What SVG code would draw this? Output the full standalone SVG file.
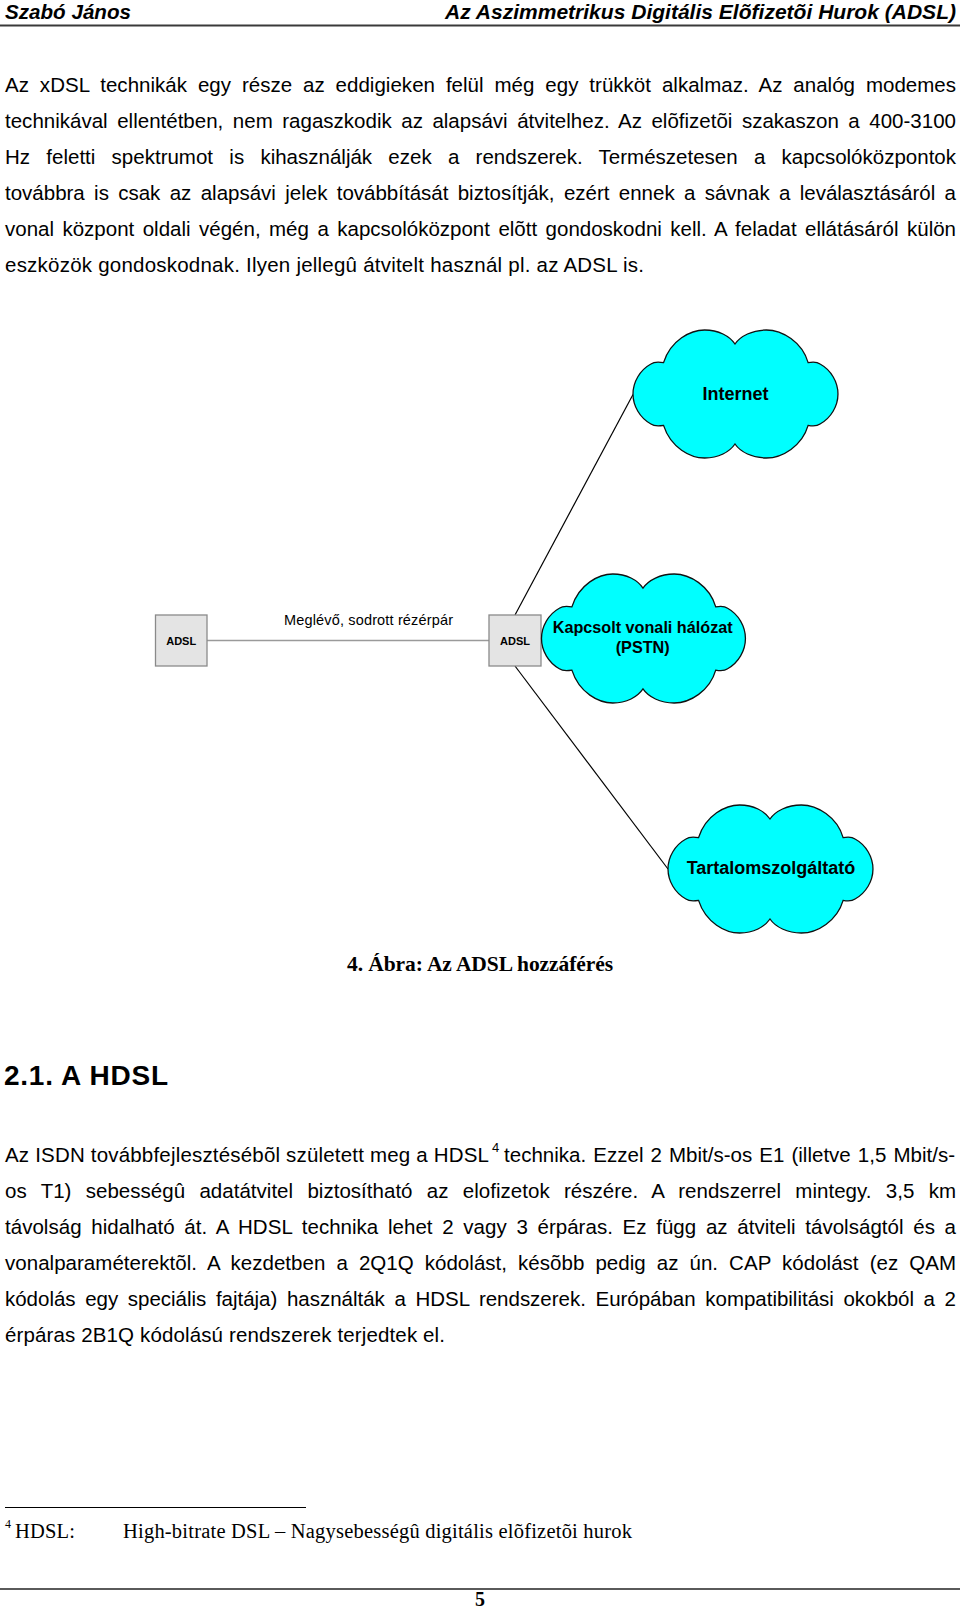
<svg xmlns="http://www.w3.org/2000/svg" xmlns:xlink="http://www.w3.org/1999/xlink" width="960" height="1609" viewBox="0 0 960 1609">
<style>
.hdr{font-family:"Liberation Sans Narrow","Liberation Sans",Arial,sans-serif;font-weight:bold;font-style:italic;font-size:21px;fill:#000}
.body{font-family:"Liberation Sans",Arial,sans-serif;font-size:20.5px;fill:#000}
.h2{font-family:"Liberation Sans",Arial,sans-serif;font-size:28px;font-weight:bold;fill:#000}
.serif{font-family:"Liberation Serif","Times New Roman",serif;font-size:20.5px;fill:#000}
.cap{font-family:"Liberation Serif","Times New Roman",serif;font-size:21.5px;font-weight:bold;fill:#000}
.box{fill:#e4e4e4;stroke:#8a8a8a;stroke-width:1.3}
.boxlbl{font-family:"Liberation Sans",Arial,sans-serif;font-size:11px;font-weight:bold;fill:#000;text-anchor:middle}
.cloud{fill:#00ffff;stroke:#111;stroke-width:1.3}
.cloudlbl{font-family:"Liberation Sans",Arial,sans-serif;font-size:18px;font-weight:bold;fill:#000;text-anchor:middle}
.lbl{font-family:"Liberation Sans",Arial,sans-serif;font-size:14.5px;fill:#000}
.wire{stroke:#000;stroke-width:1.2;fill:none}
.copper{stroke:#9a9a9a;stroke-width:1.3;fill:none}
</style>
<defs>
<path id="cloud" d="M30.7,32.6 C38,10 58,0 72,0 C86,0 97,6 102.5,14 C108,6 120,0 134,0 C150,0 170,12 176,32.6 C182,31.5 186,32.5 188,34 C199,40 206,52 206,64 C206,76 199,88 188,94 C186,95.5 182,96.5 176,95.4 C170,116 150,128 134,128 C120,128 108,122 102.5,114 C97,122 86,128 72,128 C58,128 38,118 30.7,95.4 C24,96.5 20,95.5 18,94 C7,88 0,76 0,64 C0,52 7,40 18,34 C20,32.5 24,31.5 30.7,32.6 Z"/>
</defs>
<rect x="0" y="0" width="960" height="1609" fill="#fff"/>

<g id="header">
<text class="hdr" x="5" y="18.5" textLength="126" lengthAdjust="spacingAndGlyphs">Szabó János</text>
<text class="hdr" x="445" y="18.5" textLength="511" lengthAdjust="spacingAndGlyphs">Az Aszimmetrikus Digitális Elõfizetõi Hurok (ADSL)</text>
<line x1="0" y1="25.5" x2="960" y2="25.5" stroke="#3a3a3a" stroke-width="2"/>
</g>

<g id="paragraph1" class="body">
<text x="5" y="91.5" style="word-spacing:5.19px" textLength="951" lengthAdjust="spacing">Az xDSL technikák egy része az eddigieken felül még egy trükköt alkalmaz. Az analóg modemes</text>
<text x="5" y="127.5" style="word-spacing:3.79px" textLength="951" lengthAdjust="spacing">technikával ellentétben, nem ragaszkodik az alapsávi átvitelhez. Az elõfizetõi szakaszon a 400-3100</text>
<text x="5" y="163.5" style="word-spacing:10.54px" textLength="951" lengthAdjust="spacing">Hz feletti spektrumot is kihasználják ezek a rendszerek. Természetesen a kapcsolóközpontok</text>
<text x="5" y="199.5" style="word-spacing:3.64px" textLength="951" lengthAdjust="spacing">továbbra is csak az alapsávi jelek továbbítását biztosítják, ezért ennek a sávnak a leválasztásáról a</text>
<text x="5" y="235.5" style="word-spacing:2.76px" textLength="951" lengthAdjust="spacing">vonal központ oldali végén, még a kapcsolóközpont elõtt gondoskodni kell. A feladat ellátásáról külön</text>
<text x="5" y="271.5" textLength="639" lengthAdjust="spacing">eszközök gondoskodnak. Ilyen jellegû átvitelt használ pl. az ADSL is.</text>
</g>

<g id="connectors">
<line class="copper" x1="207" y1="640.5" x2="489" y2="640.5"/>
<line class="wire" x1="515" y1="615" x2="633" y2="394.5"/>
<line class="wire" x1="515" y1="666" x2="668" y2="869"/>
<text class="lbl" x="284" y="625" textLength="169" lengthAdjust="spacing">Meglévő, sodrott rézérpár</text>
</g>

<g id="adsl-left">
<rect class="box" x="155.5" y="615" width="51.5" height="51"/>
<text class="boxlbl" x="181.2" y="645">ADSL</text>
</g>

<g id="adsl-right">
<rect class="box" x="489" y="615" width="52" height="51"/>
<text class="boxlbl" x="515" y="645">ADSL</text>
</g>

<g id="internet">
<use xlink:href="#cloud" class="cloud" transform="translate(633,330) scale(0.995,1)"/>
<text class="cloudlbl" x="735.5" y="400">Internet</text>
</g>

<g id="pstn">
<use xlink:href="#cloud" class="cloud" transform="translate(541.5,574) scale(0.99,1.008)"/>
<text class="cloudlbl" style="font-size:16.2px" x="642.7" y="633">Kapcsolt vonali hálózat</text>
<text class="cloudlbl" style="font-size:16.2px" x="642.7" y="653">(PSTN)</text>
</g>

<g id="tartalomszolgaltato">
<use xlink:href="#cloud" class="cloud" transform="translate(668,805) scale(0.995,1)"/>
<text class="cloudlbl" x="771" y="874">Tartalomszolgáltató</text>
</g>

<g id="caption">
<text class="cap" x="347" y="971" textLength="266" lengthAdjust="spacing">4. Ábra: Az ADSL hozzáférés</text>
</g>

<g id="heading">
<text class="h2" x="4" y="1085" textLength="164" lengthAdjust="spacing">2.1. A HDSL</text>
</g>

<g id="paragraph2" class="body">
<text x="5" y="1162" textLength="484" lengthAdjust="spacing">Az ISDN továbbfejlesztésébõl született meg a HDSL</text>
<text x="492" y="1152" style="font-size:13px">4</text>
<text x="504" y="1162" style="word-spacing:1.3px" textLength="451" lengthAdjust="spacing">technika. Ezzel 2 Mbit/s-os E1 (illetve 1,5 Mbit/s-</text>
<text x="5" y="1198" style="word-spacing:8.59px" textLength="951" lengthAdjust="spacing">os T1) sebességû adatátvitel biztosítható az elofizetok részére. A rendszerrel mintegy. 3,5 km</text>
<text x="5" y="1234" style="word-spacing:3.93px" textLength="951" lengthAdjust="spacing">távolság hidalható át. A HDSL technika lehet 2 vagy 3 érpáras. Ez függ az átviteli távolságtól és a</text>
<text x="5" y="1270" style="word-spacing:5.31px" textLength="951" lengthAdjust="spacing">vonalparaméterektõl. A kezdetben a 2Q1Q kódolást, késõbb pedig az ún. CAP kódolást (ez QAM</text>
<text x="5" y="1306" style="word-spacing:3.94px" textLength="951" lengthAdjust="spacing">kódolás egy speciális fajtája) használták a HDSL rendszerek. Európában kompatibilitási okokból a 2</text>
<text x="5" y="1342" textLength="440" lengthAdjust="spacing">érpáras 2B1Q kódolású rendszerek terjedtek el.</text>
</g>

<g id="footnote">
<line x1="5" y1="1507.5" x2="306" y2="1507.5" stroke="#000" stroke-width="1"/>
<text class="serif" x="5" y="1528" style="font-size:12px">4</text>
<text class="serif" x="15" y="1538" textLength="60" lengthAdjust="spacing">HDSL:</text>
<text class="serif" x="123" y="1538" textLength="509" lengthAdjust="spacing">High-bitrate DSL – Nagysebességû digitális elõfizetõi hurok</text>
</g>

<g id="footer">
<line x1="0" y1="1589" x2="960" y2="1589" stroke="#5a5a5a" stroke-width="2"/>
<text class="serif" x="480" y="1606" style="font-size:20px;font-weight:bold;text-anchor:middle">5</text>
</g>
</svg>
